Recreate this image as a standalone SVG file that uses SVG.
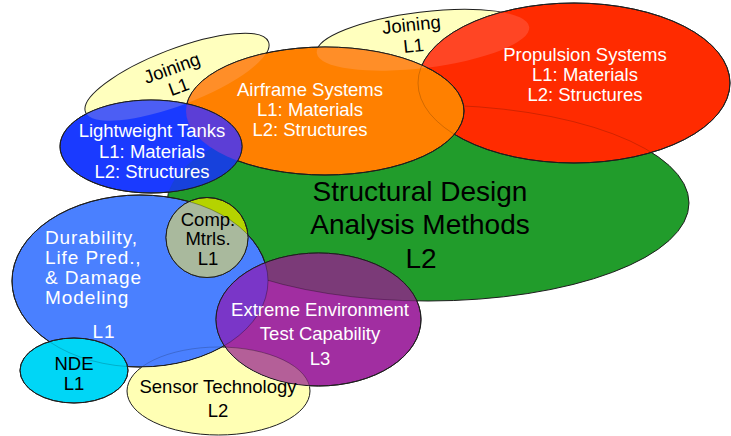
<svg xmlns="http://www.w3.org/2000/svg" xmlns:xlink="http://www.w3.org/1999/xlink" width="731" height="436" viewBox="0 0 731 436">
<style>
.shape{stroke:#1e1e1e;stroke-width:1}
.outline{fill:none;stroke:#1e1e1e;stroke-width:1}
.edge{fill:none;stroke:#000;stroke-width:1;stroke-opacity:.18}
.pe{stroke:#000;stroke-width:1;stroke-opacity:.3}
.lbl{font-family:"Liberation Sans",Arial,sans-serif;font-size:18.5px;text-anchor:middle}
.w{fill:#fff}
.k{fill:#000}
.big{font-size:28px}
.dur{font-size:19px;letter-spacing:0.9px;text-anchor:start}
</style>
<defs>
<ellipse id="e-jl" cx="177" cy="77" rx="98" ry="28" transform="rotate(-21 177 77)"/>
<ellipse id="e-jr" cx="423" cy="40" rx="107" ry="28" transform="rotate(-7 423 40)"/>
<ellipse id="e-green" cx="428" cy="203" rx="261" ry="98"/>
<ellipse id="e-red" cx="574" cy="83" rx="156" ry="80"/>
<ellipse id="e-orange" cx="325" cy="111" rx="139" ry="64"/>
<ellipse id="e-tanks" cx="151" cy="146.5" rx="91" ry="46.5"/>
<ellipse id="e-dur" cx="140" cy="281" rx="128" ry="86"/>
<ellipse id="e-comp" cx="207" cy="237.5" rx="41" ry="40"/>
<ellipse id="e-purple" cx="318.5" cy="319.5" rx="102.5" ry="66.5"/>
<ellipse id="e-nde" cx="74" cy="370.5" rx="54" ry="32.5"/>
<ellipse id="e-sensor" cx="218.5" cy="391" rx="91.5" ry="44"/>
<clipPath id="c-red"><use href="#e-red"/></clipPath>
<clipPath id="c-orange"><use href="#e-orange"/></clipPath>
<clipPath id="c-tanks"><use href="#e-tanks"/></clipPath>
<clipPath id="c-dur"><use href="#e-dur"/></clipPath>
<clipPath id="c-comp"><use href="#e-comp"/></clipPath>
<clipPath id="c-purple"><use href="#e-purple"/></clipPath>
<clipPath id="c-nde"><use href="#e-nde"/></clipPath>
<mask id="m-sensor" maskUnits="userSpaceOnUse" x="0" y="0" width="731" height="436">
<rect width="731" height="436" fill="#fff"/>
<ellipse cx="140" cy="281" rx="128.6" ry="86.6" fill="#000"/>
<ellipse cx="318.5" cy="319.5" rx="103.1" ry="67.1" fill="#000"/>
</mask>
</defs>
<rect width="731" height="436" fill="#fff"/>
<g id="connectors"/>

<g id="joining-left">
<use href="#e-jl" class="shape" fill="#ffffbe"/>
<g class="lbl k" transform="rotate(-20 174 74)">
<text x="174" y="74">Joining</text>
<text x="174" y="94">L1</text>
</g>
</g>

<g id="joining-right">
<use href="#e-jr" class="shape" fill="#ffffbe"/>
<g class="lbl k" transform="rotate(-6 412 31)">
<text x="412" y="31">Joining</text>
<text x="412" y="52">L1</text>
</g>
</g>

<g id="structural-design">
<use href="#e-green" class="shape" fill="#219c2b"/>
<g class="lbl k big">
<text x="420" y="201">Structural Design</text>
<text x="420" y="234">Analysis Methods</text>
<text x="421" y="268">L2</text>
</g>
</g>

<g id="propulsion-systems">
<use href="#e-red" class="shape" fill="#ff2b00"/>
<g clip-path="url(#c-red)">
<use href="#e-jr" fill="#ff4524"/>
<use href="#e-green" class="edge"/>
</g>
<use href="#e-red" class="outline"/>
<g class="lbl w">
<text x="585" y="61">Propulsion Systems</text>
<text x="585" y="81">L1: Materials</text>
<text x="585" y="101">L2: Structures</text>
</g>
</g>

<g id="airframe-systems">
<use href="#e-orange" class="shape" fill="#ff8000"/>
<g clip-path="url(#c-orange)">
<use href="#e-jl" fill="#ff8e28"/>
<use href="#e-jr" fill="#ff8e28"/>
<use href="#e-red" class="edge"/>
</g>
<use href="#e-orange" class="outline"/>
<g class="lbl w">
<text x="310" y="96">Airframe Systems</text>
<text x="310" y="116">L1: Materials</text>
<text x="310" y="136">L2: Structures</text>
</g>
</g>

<g id="lightweight-tanks">
<use href="#e-tanks" class="shape" fill="#1a3aff"/>
<g clip-path="url(#c-tanks)">
<use href="#e-jl" fill="#4c5ef4"/>
<use href="#e-green" fill="#1741dc"/>
<use href="#e-orange" fill="#5c3ed6"/>
</g>
<use href="#e-tanks" class="outline"/>
<g class="lbl w">
<text x="152" y="137">Lightweight Tanks</text>
<text x="152" y="158">L1: Materials</text>
<text x="152" y="178">L2: Structures</text>
</g>
</g>

<g id="durability">
<use href="#e-dur" class="shape" fill="#4a80ff"/>
<g clip-path="url(#c-dur)">
<use href="#e-sensor" class="edge"/>
</g>
<use href="#e-dur" class="outline"/>
<g class="lbl w dur">
<text x="45" y="244">Durability,</text>
<text x="45" y="264">Life Pred.,</text>
<text x="45" y="284">&amp; Damage</text>
<text x="45" y="304">Modeling</text>
<text x="104" y="338" style="text-anchor:middle">L1</text>
</g>
</g>

<g id="comp-mtrls">
<use href="#e-comp" class="shape" fill="#b5d300"/>
<g clip-path="url(#c-comp)">
<use href="#e-dur" fill="#a9b99d" class="pe"/>
</g>
<use href="#e-comp" class="outline"/>
<g class="lbl k">
<text x="208" y="226">Comp.</text>
<text x="208" y="245">Mtrls.</text>
<text x="208" y="265">L1</text>
</g>
</g>

<g id="extreme-environment">
<use href="#e-purple" class="shape" fill="#a12ea1"/>
<g clip-path="url(#c-purple)">
<use href="#e-green" fill="#7b3a78" class="pe"/>
<use href="#e-dur" fill="#7a36c8" class="pe"/>
<use href="#e-sensor" fill="#b45f98" class="pe"/>
</g>
<use href="#e-purple" class="outline"/>
<g class="lbl w">
<text x="320" y="316">Extreme Environment</text>
<text x="320" y="340">Test Capability</text>
<text x="320" y="365">L3</text>
</g>
</g>

<g id="nde">
<use href="#e-nde" class="shape" fill="#00d6f6"/>
<g clip-path="url(#c-nde)">
<use href="#e-dur" class="edge"/>
</g>
<use href="#e-nde" class="outline"/>
<g class="lbl k">
<text x="74" y="370">NDE</text>
<text x="74" y="390">L1</text>
</g>
</g>

<g id="sensor-technology">
<use href="#e-sensor" class="shape" fill="#ffffb4" mask="url(#m-sensor)"/>
<g class="lbl k">
<text x="218" y="393">Sensor Technology</text>
<text x="218" y="417">L2</text>
</g>
</g>
</svg>
